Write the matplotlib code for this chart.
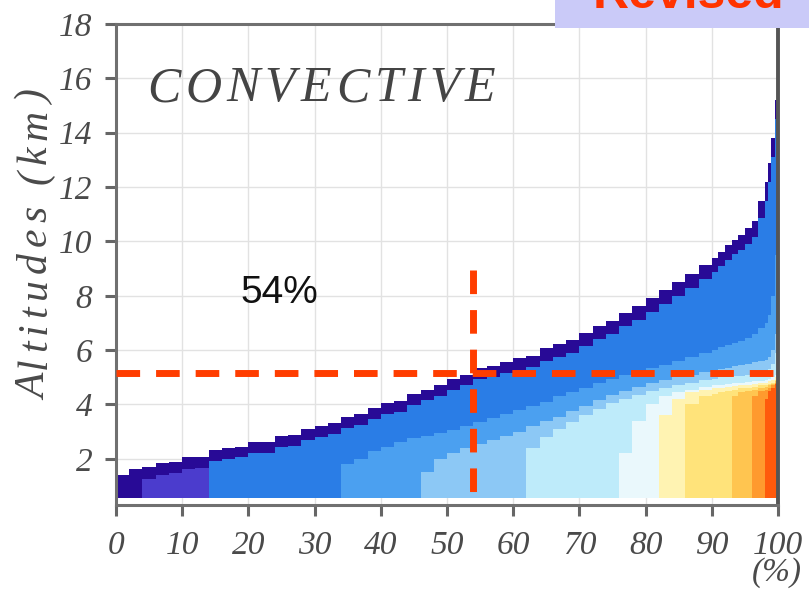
import matplotlib
matplotlib.use("Agg")
import matplotlib.pyplot as plt
from matplotlib.patches import Rectangle
from matplotlib.font_manager import FontProperties
from matplotlib.textpath import TextToPath

# ---------------------------------------------------------------------------
# Sorted convective profiles: column edges (% of profiles) and, for each
# column, the top height (km) of every colour class, stacked from the echo
# top downwards.  A value equal to BASE means the class is absent there.
# ---------------------------------------------------------------------------
BASE = 0.55

pct_edges = [0, 2, 4, 6, 8, 10, 12, 14, 16, 18, 20, 22, 24, 26, 28, 30, 32, 34,
             36, 38, 40, 42, 44, 46, 48, 50, 52, 54, 56, 58, 60, 62, 64, 66, 68,
             70, 72, 74, 76, 78, 80, 82, 84, 86, 88, 90, 91, 92, 93, 94, 95, 96,
             97, 98, 98.5, 99, 99.5, 100]

echo_top = [1.40, 1.61, 1.70, 1.84, 1.88, 2.06, 2.08, 2.33, 2.41, 2.45,
            2.60, 2.62, 2.84, 2.86, 3.08, 3.22, 3.32, 3.55, 3.64, 3.87,
            4.05, 4.12, 4.38, 4.55, 4.72, 4.92, 5.10, 5.33, 5.42, 5.57,
            5.72, 5.80, 6.06, 6.22, 6.36, 6.62, 6.88, 7.08, 7.38, 7.62,
            7.92, 8.20, 8.50, 8.80, 9.15, 9.40, 9.60, 9.85, 10.05, 10.25,
            10.50, 10.75, 11.50, 12.20, 12.90, 13.80, 15.20]

purple_top = [BASE, BASE, 1.25, 1.42, 1.46, 1.64, 1.66] + [BASE] * 50

blue_top = [BASE] * 7 + [1.91, 2.01, 2.05,
            2.20, 2.22, 2.44, 2.46, 2.68, 2.82, 2.92, 3.15, 3.24, 3.47,
            3.65, 3.72, 3.98, 4.15, 4.32, 4.52, 4.70, 4.92, 5.00, 5.15,
            5.28, 5.36, 5.60, 5.76, 5.90, 6.15, 6.40, 6.60, 6.88, 7.12,
            7.40, 7.68, 7.98, 8.28, 8.62, 8.88, 9.08, 9.32, 9.52, 9.70,
            9.92, 10.15, 10.85, 11.50, 12.20, 13.10, 14.50]

mid_blue_top = [BASE] * 17 + [1.80, 2.00, 2.30,
                2.45, 2.60, 2.75, 2.85, 2.95, 3.05, 3.20, 3.35, 3.50, 3.65,
                3.80, 3.95, 4.10, 4.30, 4.45, 4.60, 4.80, 4.95, 5.10, 5.20,
                5.35, 5.45, 5.60, 5.75, 5.90, 6.00, 6.10, 6.20, 6.25, 6.35,
                6.45, 6.60, 6.80, 7.00, 7.30, 8.00, 9.50]

light_blue_top = [BASE] * 23 + [1.50, 2.00, 2.20, 2.40, 2.55, 2.70, 2.85,
                  3.00, 3.20, 3.40, 3.55, 3.75, 3.95, 4.15, 4.35, 4.50, 4.65,
                  4.80, 4.90, 5.00, 5.10, 5.20, 5.25, 5.30, 5.35, 5.40, 5.45,
                  5.50, 5.55, 5.60, 5.65, 5.75, 6.00, 6.60]

cyan_top = [BASE] * 31 + [2.40, 2.80, 3.10, 3.35, 3.60, 3.85, 4.05, 4.20, 4.35,
            4.50, 4.60, 4.70, 4.80, 4.90, 4.95, 5.00, 5.00, 5.05, 5.05,
            5.10, 5.10, 5.15, 5.20, 5.30, 5.50, 5.90]

white_top = [BASE] * 38 + [2.20, 3.40,
             4.00, 4.30, 4.45, 4.55, 4.65, 4.70, 4.72, 4.75, 4.78, 4.80,
             4.82, 4.85, 4.88, 4.90, 4.95, 5.00, 5.10]

pale_yellow_top = [BASE] * 41 + [3.60, 4.20, 4.45, 4.55, 4.60, 4.62, 4.65, 4.68, 4.70,
                   4.72, 4.75, 4.78, 4.80, 4.85, 4.90, 5.00]

yellow_top = [BASE] * 43 + [4.00, 4.30, 4.40, 4.45, 4.50, 4.55, 4.60,
              4.62, 4.65, 4.70, 4.72, 4.75, 4.80, 4.90]

gold_top = [BASE] * 48 + [4.30, 4.45, 4.50, 4.55, 4.60, 4.65, 4.70, 4.75, 4.85]

orange_top = [BASE] * 51 + [4.30, 4.50, 4.55, 4.60, 4.70, 4.80]

red_top = [BASE] * 53 + [4.20, 4.50, 4.60, 4.75]

band_tops = [echo_top, purple_top, blue_top, mid_blue_top, light_blue_top,
             cyan_top, white_top, pale_yellow_top, yellow_top, gold_top,
             orange_top, red_top]
band_colors = ['#280a96', '#4b3ccd', '#2a7de6', '#4ba0f0', '#8cc8f5',
               '#beebfa', '#eaf8fc', '#fff3b2', '#ffe37a', '#ffc550',
               '#ff9a2e', '#ff5a0c']

# reference level and the share of profiles whose top lies below it
freezing_km = 5.15
split_pct = 54
split_line_top = 8.95

x_ticks = [0, 10, 20, 30, 40, 50, 60, 70, 80, 90, 100]
y_ticks = [2, 4, 6, 8, 10, 12, 14, 16, 18]

# ---------------------------------------------------------------------------
W, H, DPI = 809, 589, 100
fig = plt.figure(figsize=(W / DPI, H / DPI), dpi=DPI)
fig.patch.set_facecolor('white')

ax_l, ax_r, ax_t, ax_b = 116, 778, 24, 505
ax = fig.add_axes([ax_l / W, 1 - ax_b / H, (ax_r - ax_l) / W, (ax_b - ax_t) / H])
ax.set_xlim(0, 100)
ax.set_ylim(0.3, 18)
ax.set_axisbelow(True)
ax.grid(True, color='#e2e2e2', lw=1.0)

for tops, col in zip(band_tops, band_colors):
    assert len(tops) == len(pct_edges) - 1
    ax.stairs(tops, pct_edges, baseline=BASE, fill=True, color=col, lw=0,
              zorder=1)

red = '#ff3d00'
ax.plot([0, 100], [freezing_km, freezing_km], color=red, lw=5,
        ls=(0, (3.4, 2.3)), dash_capstyle='butt', zorder=5)
ax.plot([split_pct, split_pct], [split_line_top, 0.5], color=red, lw=5,
        ls=(0, (3.4, 2.3)), dash_capstyle='butt', zorder=5)

ax.text(24.6, 8.1, f'{split_pct}%', fontsize=28, family='Liberation Sans',
        color='#111111', ha='center', va='center', zorder=6)

# axes frame and ticks
for side in ['left', 'top', 'bottom']:
    ax.spines[side].set_color('#707070')
    ax.spines[side].set_linewidth(2.2)
ax.spines['right'].set_color('#555555')
ax.spines['right'].set_linewidth(2.8)

tick_font = FontProperties(family='Liberation Serif', style='italic', size=24)
ax.set_xticks(x_ticks)
ax.set_yticks(y_ticks)
ax.set_xticklabels([str(v) for v in x_ticks], fontproperties=tick_font, color='#4a4a4a')
ax.set_yticklabels([str(v) for v in y_ticks], fontproperties=tick_font, color='#4a4a4a')
ax.tick_params(axis='both', direction='out', length=8, width=2.2, colors='#666666',
               labelcolor='#4a4a4a')
ax.tick_params(axis='y', pad=9)
ax.tick_params(axis='x', pad=10)

fig.text(777 / W, 1 - 573 / H, '(%)', fontproperties=tick_font, color='#4a4a4a',
         ha='center', va='center')

# letter-spaced italic labels
t2p = TextToPath()


def ink_width_px(s, prop):
    w, _, _ = t2p.get_text_width_height_descent(s, prop, ismath=False)
    return w * DPI / 72.0


def spaced_text(s, x_px, y_px, prop, span_px, color, vertical=False):
    ref = 'l'
    wref = ink_width_px(ref, prop)
    natural = ink_width_px(s, prop)
    extra = (span_px - natural) / (len(s) - 1)
    for i, ch in enumerate(s):
        if ch == ' ':
            continue
        off = (ink_width_px(s[:i] + ref, prop) - wref if i else 0.0) + i * extra
        if vertical:
            x, y, rot = x_px, y_px - off, 90
        else:
            x, y, rot = x_px + off, y_px, 0
        fig.text(x / W, 1 - y / H, ch, fontproperties=prop, color=color,
                 rotation=rot, rotation_mode='anchor', ha='left', va='baseline')


title_font = FontProperties(family='Liberation Serif', style='italic', size=36)
spaced_text('CONVECTIVE', 147, 101, title_font, 348, '#444444')

label_font = FontProperties(family='Liberation Serif', style='italic', size=30)
spaced_text('Altitudes (km)', 46, 400, label_font, 310, '#4a4a4a', vertical=True)

# "Revised" banner in the top right corner
fig.add_artist(Rectangle((555 / W, 1 - 28 / H), (W - 555) / W, 28 / H,
                         transform=fig.transFigure, facecolor='#cacaf8',
                         edgecolor='none', zorder=3))
fig.text(593 / W, 1 - 8 / H, 'Revised', family='Liberation Sans', weight='bold',
         fontsize=36, color='#ff3300', ha='left', va='baseline', zorder=4)

fig.savefig('out.png', dpi=DPI)
